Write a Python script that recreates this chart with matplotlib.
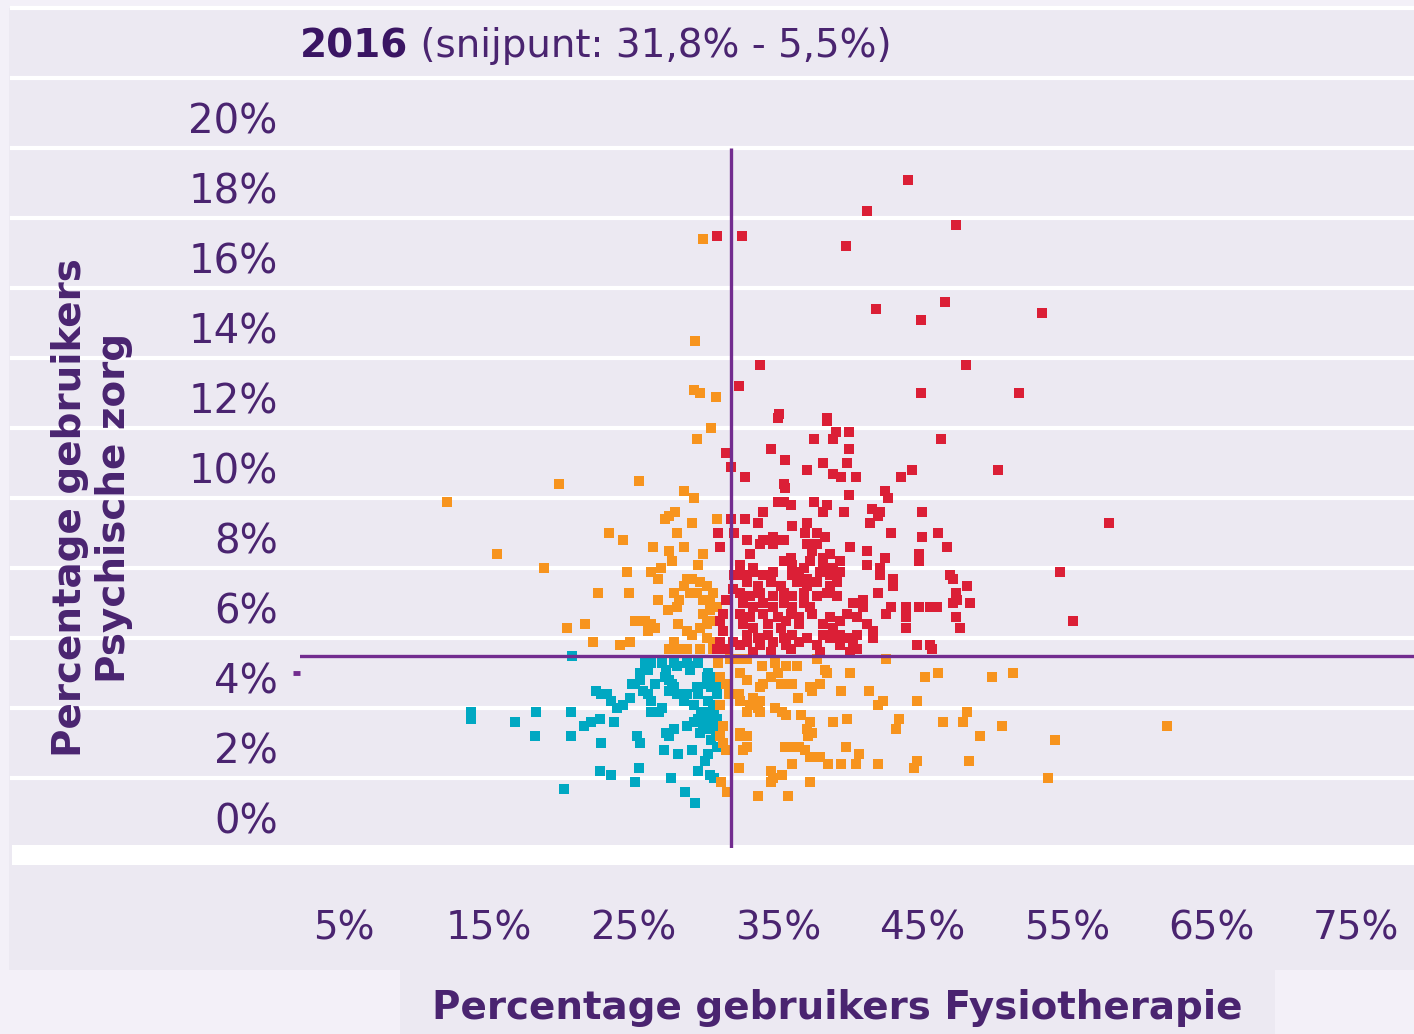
import matplotlib.pyplot as plt
from matplotlib.patches import Rectangle

# snijpunt (cut point) of the quadrants
cut_fysio = 31.8
cut_psych = 5.5

fysio_ticks = [5, 15, 25, 35, 45, 55, 65, 75]
psych_ticks = [0, 2, 4, 6, 8, 10, 12, 14, 16, 18, 20]

# (fysiotherapie %, psychische zorg %) per group
red_pts = [
    (44.0, 19.1), (41.2, 18.2), (47.3, 17.8), (39.7, 17.2), (32.5, 17.5), (30.8, 17.5),
    (46.6, 15.6), (41.8, 15.4), (44.9, 15.1), (53.3, 15.3), (33.8, 13.8), (48.0, 13.8),
    (32.3, 13.2), (44.9, 13.0), (51.7, 13.0), (35.1, 12.4), (35.0, 12.3), (38.4, 12.3),
    (38.4, 12.2), (39.9, 11.9), (39.0, 11.9), (37.5, 11.7), (38.8, 11.7), (46.3, 11.7),
    (31.4, 11.3), (34.5, 11.4), (39.9, 11.4), (35.5, 11.1), (38.1, 11.0), (39.8, 11.0),
    (31.8, 10.9), (37.0, 10.8), (38.8, 10.7), (39.4, 10.6), (40.4, 10.6), (43.5, 10.6),
    (44.3, 10.8), (50.2, 10.8), (32.7, 10.6), (35.4, 10.4), (35.5, 10.3), (39.9, 10.1),
    (42.4, 10.2), (42.6, 10.0), (35.0, 9.9), (35.4, 9.9), (35.9, 9.8), (37.5, 9.9),
    (38.4, 9.8), (38.1, 9.6), (39.6, 9.6), (41.5, 9.7), (42.1, 9.6), (41.9, 9.5),
    (41.4, 9.3), (45.0, 9.6), (57.9, 9.3), (32.7, 9.4), (33.6, 9.3), (34.0, 9.6),
    (31.8, 9.4), (36.0, 9.2), (37.0, 9.3), (36.9, 9.0), (37.7, 9.0), (38.3, 8.9),
    (42.8, 9.0), (45.0, 8.9), (46.1, 9.0), (46.7, 8.6), (30.9, 9.0), (32.0, 9.0),
    (31.0, 8.6), (32.9, 8.8), (34.0, 8.8), (34.7, 8.9), (35.0, 8.8), (34.7, 8.7),
    (35.4, 8.8), (40.0, 8.6), (33.8, 8.7), (37.0, 8.7), (37.7, 8.7),
    (33.1, 8.4), (35.9, 8.3), (37.4, 8.5), (38.1, 8.3), (38.6, 8.4), (41.2, 8.5),
    (42.4, 8.3), (44.8, 8.4),
    (32.4, 8.1), (33.3, 8.0), (35.4, 8.2), (36.0, 8.1), (36.8, 8.0), (37.2, 8.2),
    (38.1, 8.1), (38.8, 8.0), (39.3, 8.2), (41.2, 8.1), (42.1, 8.0), (44.8, 8.2),
    (32.6, 7.8), (33.3, 7.9), (34.0, 7.8), (34.7, 7.9), (36.0, 7.8), (36.5, 7.9),
    (37.0, 7.7), (37.9, 7.9), (38.6, 7.8), (39.3, 7.9), (42.1, 7.8), (43.0, 7.7),
    (46.9, 7.8), (54.5, 7.9),
    (32.9, 7.6), (33.6, 7.5), (34.5, 7.6), (35.2, 7.5), (36.3, 7.6), (37.0, 7.5),
    (37.7, 7.6), (38.6, 7.5), (39.1, 7.6), (43.0, 7.5), (48.1, 7.5), (47.1, 7.7),
    (32.4, 7.3), (33.1, 7.2), (33.8, 7.3), (34.7, 7.2), (35.4, 7.3), (36.0, 7.2),
    (36.8, 7.3), (37.7, 7.2), (38.4, 7.3), (39.1, 7.2), (40.9, 7.1), (41.9, 7.3),
    (47.3, 7.3),
    (32.6, 7.0), (33.3, 6.9), (34.0, 7.0), (34.7, 6.9), (35.4, 7.0), (36.0, 6.9),
    (36.8, 7.0), (37.2, 6.9), (40.2, 7.0), (40.9, 6.9), (42.8, 6.9), (43.9, 6.9),
    (44.8, 6.9), (45.5, 6.9), (46.0, 6.9), (47.1, 7.0), (48.3, 7.0), (47.4, 7.1),
    (32.4, 6.7), (33.1, 6.6), (34.0, 6.7), (35.0, 6.6), (35.9, 6.7), (36.5, 6.6),
    (37.4, 6.7), (38.6, 6.6), (39.8, 6.7), (40.5, 6.6), (42.5, 6.7), (43.9, 6.6),
    (32.6, 6.4), (33.3, 6.3), (34.3, 6.4), (35.2, 6.3), (35.6, 6.5), (36.5, 6.4),
    (38.1, 6.4), (38.8, 6.3), (39.3, 6.5), (41.2, 6.4), (41.6, 6.2), (43.9, 6.3),
    (47.3, 6.6), (47.6, 6.3), (55.4, 6.5),
    (32.9, 6.1), (33.6, 6.0), (34.3, 6.1), (35.4, 6.0), (36.0, 6.1), (37.0, 6.0),
    (38.1, 6.1), (38.6, 6.0), (39.3, 6.1), (39.8, 6.0), (40.5, 6.1), (41.6, 6.0),
    (32.4, 5.8), (32.9, 5.9), (33.8, 5.8), (34.7, 5.9), (35.6, 5.8), (36.5, 5.9),
    (37.7, 5.8), (39.3, 5.8), (40.2, 5.9), (44.6, 5.8), (45.5, 5.8),
    (33.3, 5.6), (34.5, 5.6), (35.9, 5.7), (37.9, 5.6), (40.0, 5.6), (40.5, 5.7),
    (45.7, 5.7),
    (31.4, 7.1), (31.2, 6.7), (31.0, 6.5), (31.2, 6.2), (31.0, 5.9), (31.5, 5.7),
    (30.8, 5.7), (31.9, 5.9), (32.0, 7.8), (31.9, 7.4),
]

orange_pts = [
    (29.8, 17.4), (29.3, 14.5), (29.2, 13.1), (29.6, 13.0), (30.7, 12.9), (30.4, 12.0),
    (29.4, 11.7), (25.4, 10.5), (19.9, 10.4), (28.5, 10.2), (29.2, 10.0), (12.1, 9.9),
    (27.9, 9.6), (27.5, 9.5), (27.2, 9.4), (29.1, 9.3), (30.8, 9.4), (23.3, 9.0),
    (24.3, 8.8), (28.0, 9.0), (26.4, 8.6), (27.5, 8.5), (28.5, 8.6), (15.6, 8.4),
    (18.8, 8.0), (29.8, 8.4), (29.5, 8.1), (27.7, 8.2), (26.9, 8.0), (26.2, 7.9),
    (26.7, 7.7), (24.6, 7.9), (22.6, 7.3), (24.7, 7.3), (26.7, 7.1), (27.8, 7.3),
    (28.2, 7.1), (28.0, 6.9), (28.7, 7.7), (29.1, 7.7), (29.6, 7.6), (30.1, 7.5),
    (30.5, 7.3), (28.5, 7.5), (28.9, 7.3), (29.4, 7.3), (29.8, 7.1), (30.3, 7.0),
    (30.8, 6.9), (30.3, 6.8), (29.8, 6.7), (30.5, 6.5), (30.1, 6.4), (27.4, 6.8),
    (25.8, 6.5), (26.2, 6.4), (26.5, 6.3), (26.0, 6.2), (25.1, 6.5), (20.4, 6.3),
    (21.7, 6.4), (28.1, 6.4), (28.7, 6.2), (29.1, 6.1), (29.6, 6.3), (30.1, 6.0),
    (30.5, 5.9), (22.2, 5.9), (24.1, 5.8), (24.8, 5.9), (27.8, 5.9), (28.2, 5.7),
    (27.5, 5.7), (28.7, 5.7), (29.6, 5.7), (30.5, 5.7),
    (32.3, 5.4), (32.9, 5.4), (33.9, 5.2), (34.8, 5.3), (35.6, 5.2), (36.3, 5.2),
    (37.7, 5.4), (38.3, 5.1), (38.4, 5.0), (40.0, 5.0), (42.5, 5.4), (45.2, 4.9),
    (46.1, 5.0), (49.8, 4.9), (51.3, 5.0), (34.5, 4.9), (35.0, 5.0), (35.2, 4.7),
    (35.6, 4.7), (36.0, 4.7), (34.0, 4.7), (33.8, 4.6), (37.2, 4.6), (37.9, 4.7),
    (37.4, 4.5), (39.4, 4.5), (41.3, 4.5), (41.9, 4.1), (42.3, 4.2), (44.6, 4.2),
    (33.3, 4.3), (33.8, 4.2), (33.6, 4.0), (33.1, 4.1), (32.9, 3.9), (33.8, 3.9),
    (32.3, 4.4), (32.4, 4.2), (34.8, 4.0), (35.3, 3.9), (35.6, 3.8), (36.4, 4.3),
    (36.6, 3.8), (37.2, 3.6), (37.0, 3.4), (37.4, 3.3), (37.1, 3.2), (38.8, 3.6),
    (39.8, 3.7), (43.4, 3.7), (43.2, 3.4), (46.4, 3.6), (47.8, 3.6), (48.1, 3.9),
    (49.0, 3.2), (50.5, 3.5), (32.4, 3.2), (32.9, 3.2), (32.6, 2.8), (32.9, 2.9),
    (35.5, 2.9), (36.0, 2.9), (36.5, 2.9), (36.9, 2.8), (37.2, 2.6), (37.9, 2.6),
    (39.7, 2.9), (40.6, 2.7), (38.5, 2.4), (39.4, 2.4), (40.4, 2.4), (41.9, 2.4),
    (44.6, 2.5), (44.4, 2.3), (48.2, 2.5), (54.2, 3.1), (53.7, 2.0), (61.9, 3.5),
    (32.3, 2.3), (34.5, 2.2), (34.5, 1.9), (35.3, 2.1), (34.7, 2.0), (36.0, 2.4),
    (37.2, 1.9), (33.6, 1.5), (35.7, 1.5), (31.5, 1.6),
    (31.0, 4.9), (31.4, 4.7), (31.6, 4.4), (31.0, 4.1), (31.2, 3.5), (31.0, 3.2),
    (31.2, 3.0), (31.4, 2.8), (31.1, 1.9), (30.9, 5.3), (31.7, 5.4), (32.4, 5.0),
    (32.9, 4.8), (32.4, 3.3),
]

teal_pts = [
    (20.8, 5.5), (25.8, 5.3), (26.2, 5.3), (27.0, 5.3), (27.8, 5.3), (28.7, 5.3),
    (29.5, 5.3), (26.0, 5.1), (27.3, 5.1), (28.0, 5.2), (28.9, 5.1), (30.2, 5.0),
    (30.8, 4.9), (25.1, 4.7), (25.5, 4.8), (25.5, 5.0), (26.5, 4.7), (27.5, 4.8),
    (27.8, 4.6), (30.1, 4.7), (30.4, 4.6), (30.8, 4.4), (25.7, 4.5), (26.0, 4.4),
    (22.4, 4.5), (22.8, 4.4), (23.2, 4.4), (27.5, 4.5), (28.0, 4.4), (28.7, 4.4),
    (29.5, 4.4), (24.8, 4.3), (24.3, 4.1), (23.9, 4.0), (23.5, 4.2), (26.2, 4.2),
    (26.8, 3.9), (26.2, 3.9), (27.0, 4.0), (28.5, 4.2), (29.2, 4.1), (30.2, 4.2),
    (29.7, 3.9), (30.2, 3.9), (30.6, 3.9), (30.0, 3.7), (30.4, 3.6), (29.5, 3.7),
    (13.8, 3.9), (13.8, 3.7), (16.8, 3.6), (18.3, 3.9), (20.7, 3.9), (21.6, 3.5),
    (22.1, 3.6), (22.7, 3.7), (23.7, 3.6), (18.2, 3.2), (20.7, 3.2), (22.8, 3.0),
    (25.3, 3.2), (25.5, 3.0), (27.3, 3.3), (27.8, 3.4), (27.5, 3.2), (28.7, 3.5),
    (29.2, 3.6), (29.8, 3.7), (30.2, 3.4), (30.7, 3.3), (29.6, 3.3), (27.1, 2.8),
    (28.1, 2.7), (29.1, 2.8), (30.2, 2.7), (30.0, 2.5), (22.7, 2.2), (23.5, 2.1),
    (25.4, 2.3), (27.6, 2.0), (29.5, 2.2), (30.3, 2.1), (30.6, 2.0), (25.1, 1.9),
    (20.2, 1.7), (28.6, 1.6), (29.3, 1.3), (24.9, 4.7), (27.2, 4.9), (27.7, 4.7),
    (29.4, 4.6), (30.8, 4.7), (28.9, 5.2), (30.1, 4.9), (30.5, 4.1), (30.8, 3.7),
    (30.7, 3.5), (29.8, 3.5), (30.4, 3.1), (30.8, 2.9),
]

groups = [(teal_pts, '#00A8C2'), (orange_pts, '#F7941E'), (red_pts, '#DB1F36')]

W, H = 1414, 1034
bg = '#ECE9F2'
outer = '#F3F0F8'
purple = '#722C8F'
txt = '#4A2470'

fig = plt.figure(figsize=(W / 100, H / 100), dpi=100, facecolor=outer)
fig.patches.append(Rectangle((9 / W, 1 - 970 / H), (W - 9) / W, 962 / H,
                             transform=fig.transFigure, facecolor=bg, lw=0, zorder=-5))
fig.patches.append(Rectangle((400 / W, 0), 875 / W, 64 / H,
                             transform=fig.transFigure, facecolor=bg, lw=0, zorder=-5))

# axes covers 0..24 % so that the upper stripes and the 20% label fit
ax = fig.add_axes([300 / W, 1 - 848 / H, 1114 / W, 840 / H])
ax.set_facecolor('none')
for s in ax.spines.values():
    s.set_visible(False)

# labels sit half a band above their value, as in the original
ax.set_yticks([v + 0.86 for v in psych_ticks], [f'{v}%' for v in psych_ticks])
ax.set_xticks(fysio_ticks, [f'{v}%' for v in fysio_ticks])
ax.tick_params(axis='y', length=0, pad=16, labelsize=29, labelcolor=txt)
ax.tick_params(axis='x', length=0, pad=44, labelsize=28, labelcolor=txt)

# white stripes across the whole panel
left_ext = -288 / 1114
for v in range(2, 25, 2):
    ax.axhline(v, xmin=left_ext, xmax=1, color='white', lw=3, clip_on=False, zorder=1)
ax.axhspan(-0.49, 0.08, xmin=left_ext, xmax=1, color='white', lw=0, clip_on=False, zorder=1)

for pts, col in groups:
    ax.scatter([p[0] for p in pts], [p[1] for p in pts], marker='s', s=42,
               c=col, linewidths=0, zorder=2, clip_on=False)

ax.plot([cut_fysio, cut_fysio], [0, 20], color=purple, lw=2.4, zorder=3,
        solid_capstyle='butt')
ax.axhline(cut_psych, color=purple, lw=2.4, zorder=3)
ax.plot([1.45, 1.96], [5.0, 5.0], color=purple, lw=3.5, solid_capstyle='butt',
        clip_on=False, zorder=3)
ax.set_xlim(1.96, 79.0)
ax.set_ylim(0, 24)

t = fig.text(300 / W, 1 - 57 / H, '2016', fontsize=28, fontweight='bold',
             va='baseline', ha='left', color='#3A1563')
ax.annotate(' (snijpunt: 31,8% - 5,5%)', xy=(1, 0), xycoords=t, va='bottom',
            ha='left', fontsize=28, color=txt, annotation_clip=False)

fig.text(92 / W, 1 - 508 / H, 'Percentage gebruikers\nPsychische zorg', rotation=90,
         ha='center', va='center', multialignment='center', fontsize=28,
         fontweight='bold', color=txt, linespacing=1.2)
fig.text(837 / W, 1 - 1008 / H, 'Percentage gebruikers Fysiotherapie', ha='center',
         va='center', fontsize=28, fontweight='bold', color=txt)

fig.savefig('out.png', dpi=100, facecolor=fig.get_facecolor())
